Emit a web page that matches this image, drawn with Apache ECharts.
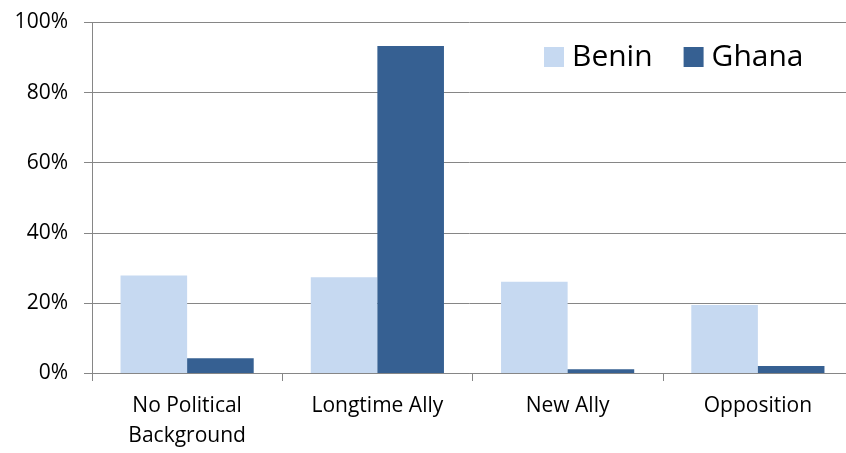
<!DOCTYPE html>
<html>
<head>
<meta charset="utf-8">
<script src="https://cdn.jsdelivr.net/npm/echarts@6/dist/echarts.min.js"></script>
<style>
html,body{margin:0;padding:0;background:#fff;}
#chart{width:846px;height:453px;}
</style>
</head>
<body>
<div id="chart"></div>
<script>
const categories = ["No Political\nBackground", "Longtime Ally", "New Ally", "Opposition"];
const benin = [0.278, 0.273, 0.260, 0.194];
const ghana = [0.042, 0.933, 0.011, 0.020];
const seriesNames = ["Benin", "Ghana"];

const chart = echarts.init(document.getElementById('chart'), null, {renderer: 'canvas'});
const font = '"Open Sans", "Liberation Sans", sans-serif';
const axisColor = '#868686';
chart.setOption({
  animation: false,
  backgroundColor: '#ffffff',
  textStyle: {fontFamily: font},
  grid: {left: 92, width: 761, top: 22.5, height: 350.5, containLabel: false, outerBoundsMode: 'none'},
  legend: {
    data: seriesNames,
    left: 539, top: 37,
    itemWidth: 20, itemHeight: 20, itemGap: 31,
    icon: 'rect',
    textStyle: {fontSize: 30, color: '#000', fontFamily: font, padding: [0, 0, 0, 3]}
  },
  xAxis: {
    type: 'category',
    data: categories,
    axisLine: {lineStyle: {color: axisColor, width: 1}},
    axisTick: {show: true, length: 8, lineStyle: {color: axisColor}},
    axisLabel: {fontSize: 21, lineHeight: 30, color: '#000', margin: 18, interval: 0, fontFamily: font}
  },
  yAxis: {
    type: 'value',
    min: 0, max: 1, interval: 0.2,
    axisLine: {show: true, lineStyle: {color: axisColor, width: 1}},
    axisTick: {show: true, length: 8, lineStyle: {color: axisColor}},
    splitLine: {show: true, lineStyle: {color: axisColor, width: 1}},
    axisLabel: {fontSize: 21, color: '#000', margin: 24, fontFamily: font,
      formatter: v => Math.round(v * 100) + '%'}
  },
  series: [
    {name: seriesNames[0], type: 'bar', data: benin, barWidth: '35%', barGap: '0%',
     itemStyle: {color: '#c6d9f1'}},
    {name: seriesNames[1], type: 'bar', data: ghana, barWidth: '35%', barGap: '0%',
     itemStyle: {color: '#366092'}}
  ]
});
</script>
</body>
</html>
